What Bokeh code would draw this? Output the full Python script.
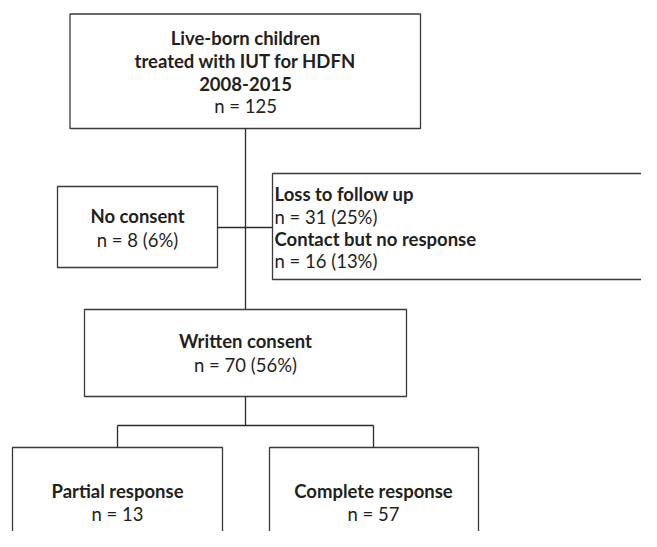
from bokeh.plotting import figure
from bokeh.models import Range1d, ColumnDataSource
from bokeh.core.properties import value
from bokeh.embed import file_html
from bokeh.resources import INLINE

# ---- data ----
titles = ["Live-born children", "No consent", "Loss to follow up",
          "Contact but no response", "Written consent",
          "Partial response", "Complete response"]
counts = [125, 8, 31, 16, 70, 13, 57]
percents = [None, 6, 25, 13, 56, None, None]
top_subtitles = ["treated with IUT for HDFN", "2008-2015"]

def count_label(n, pct):
    return f"n = {n}" if pct is None else f"n = {n} ({pct}%)"

labels = [count_label(n, p) for n, p in zip(counts, percents)]

# ---- layout (image pixel coordinates) ----
boxes = dict(
    left=[69.5, 57, 272, 84, 12, 269],
    right=[420, 217, 1000, 406, 222, 478],
    top=[13.5, 186, 173, 309, 447, 447],
    bottom=[128, 267, 279, 396, 1000, 1000],
)

FONT = "Lato"
SIZE = "18.5px"
TXT = "#231f20"

p = figure(width=641, height=531, output_backend="svg", toolbar_location=None,
           x_range=Range1d(0, 641), y_range=Range1d(531, 0),
           min_border=0)
p.axis.visible = False
p.grid.visible = False
p.outline_line_color = None
p.background_fill_color = "white"

p.quad(source=ColumnDataSource(boxes), left="left", right="right", top="top",
       bottom="bottom", fill_color="white", line_color="#3a3a3a", line_width=1.3)

# connectors
p.segment(x0=[245, 217, 245, 117, 117, 373], y0=[128, 227, 396, 425, 425, 425],
          x1=[245, 272, 245, 373, 117, 373], y1=[309, 227, 425, 425, 447, 447],
          line_color="#2a2a2a", line_width=1.3)

# bold titles (centered)
bold_src = ColumnDataSource(dict(
    x=[245, 245, 245, 137, 245, 117, 373],
    y=[37, 60, 83, 215, 340, 490, 490],
    t=[titles[0], top_subtitles[0], top_subtitles[1], titles[1], titles[4], titles[5], titles[6]],
))
p.text(x="x", y="y", text="t", source=bold_src, text_font=value(FONT),
       text_font_style="bold", text_font_size=SIZE, text_align="center",
       text_baseline="middle", text_color=TXT)

norm_src = ColumnDataSource(dict(
    x=[245, 137, 245, 117, 373],
    y=[105, 239, 364, 513, 513],
    t=[labels[0], labels[1], labels[4], labels[5], labels[6]],
))
p.text(x="x", y="y", text="t", source=norm_src, text_font=value(FONT),
       text_font_size=SIZE, text_align="center", text_baseline="middle",
       text_color=TXT)

# left-aligned loss box text
loss_b = ColumnDataSource(dict(x=[274, 274], y=[193, 238], t=[titles[2], titles[3]]))
p.text(x="x", y="y", text="t", source=loss_b, text_font=value(FONT),
       text_font_style="bold", text_font_size=SIZE, text_align="left",
       text_baseline="middle", text_color=TXT)
loss_n = ColumnDataSource(dict(x=[274, 274], y=[216, 260], t=[labels[2], labels[3]]))
p.text(x="x", y="y", text="t", source=loss_n, text_font=value(FONT),
       text_font_size=SIZE, text_align="left", text_baseline="middle",
       text_color=TXT)

open("out.html", "w").write(file_html(p, INLINE))
